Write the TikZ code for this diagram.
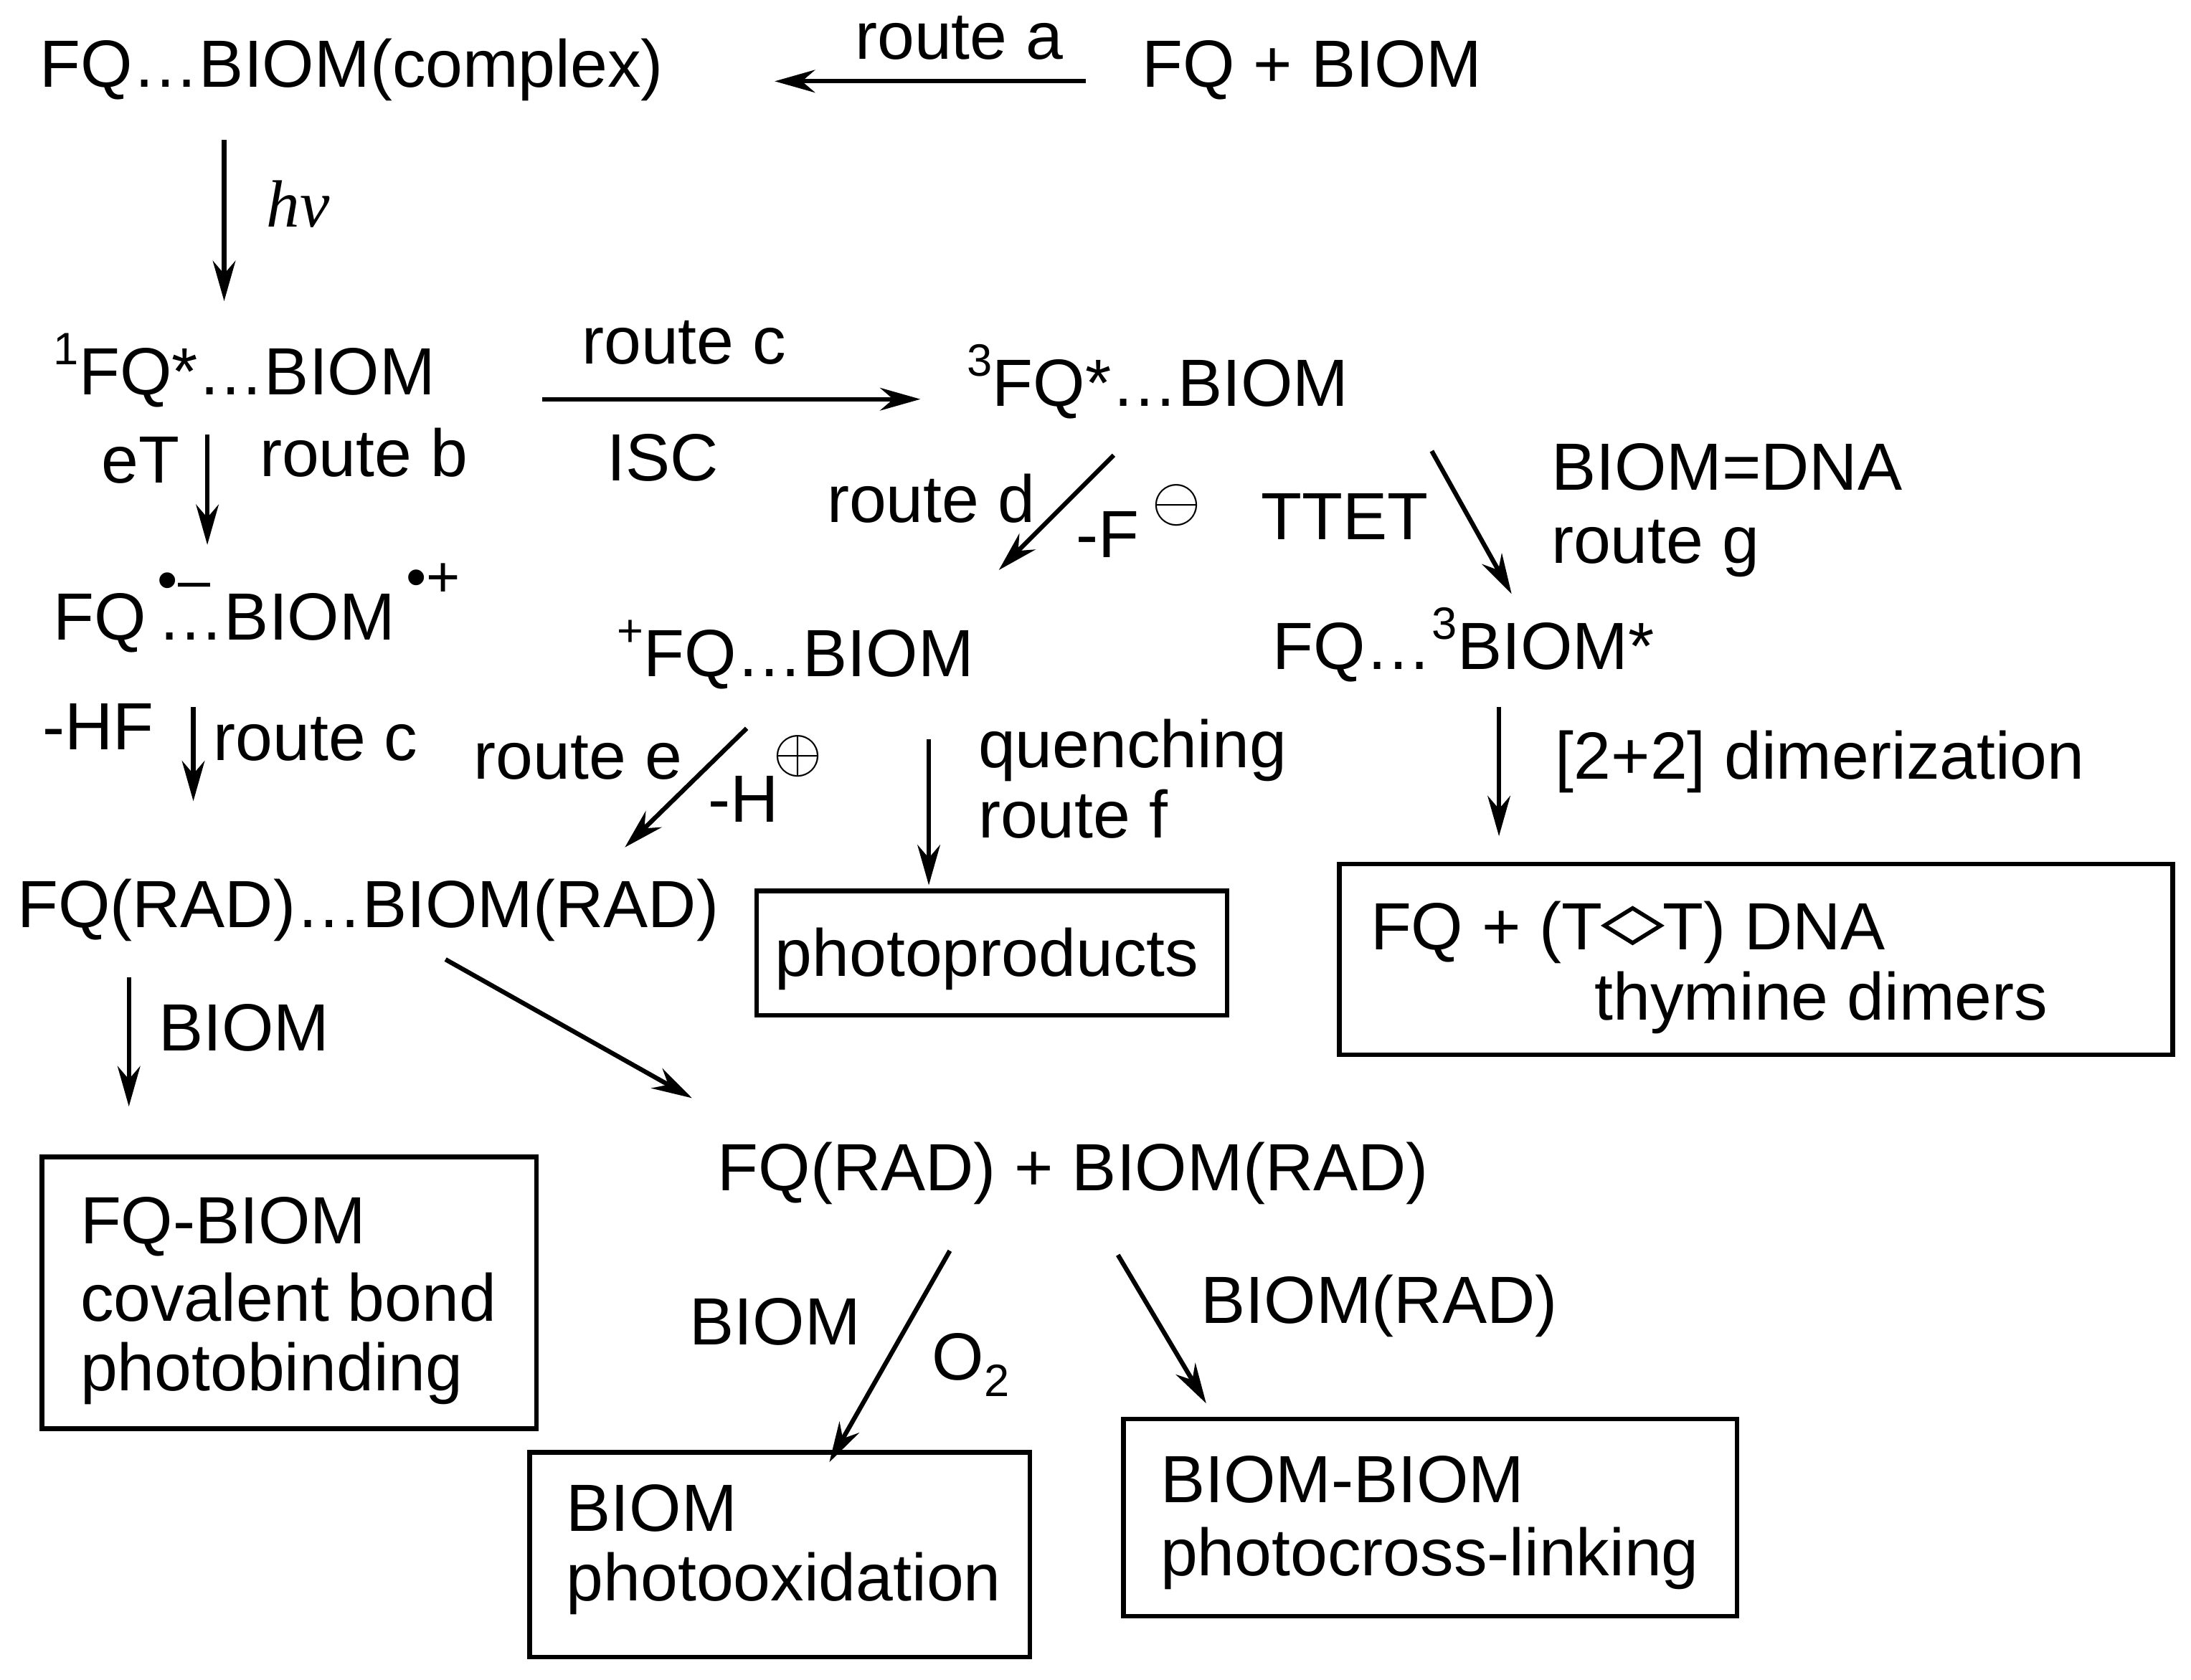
\documentclass[tikz,border=0pt]{standalone}
\usepackage{fontspec}
\setmainfont{Liberation Sans}
\newfontfamily\serifit{Liberation Serif}
\usetikzlibrary{arrows.meta}
\begin{document}
\begin{tikzpicture}[x=0.01953cm,y=-0.01953cm,
  t/.style={anchor=base west,inner sep=0pt,font=\fontsize{26.5}{30}\selectfont},
  ar/.style={-{Stealth[length=16pt,width=9pt]},line width=1.8pt},
  bx/.style={line width=1.8pt}]
\useasboundingbox (0,0) rectangle (1564,1199);
\newcommand\sm[1]{{\fontsize{18}{20}\selectfont #1}}
\newcommand\smb[1]{{\fontsize{23}{24}\selectfont #1}}
% row 1
\node[t] (c1) at (28,62) {FQ…BIOM(complex)};
\node[t] (ra) at (610,42) {route a};
\node[t] (fb) at (815,62) {FQ + BIOM};
\coordinate (a1s) at (775,58); \coordinate (a1e) at (553,58);
\draw[ar] (a1s) -- (a1e);
\coordinate (h1) at (160,100); \coordinate (h2) at (160,215);
\draw[ar] (h1) -- (h2);
\node[t,font=\fontsize{26.5}{30}\serifit\itshape] (hv) at (190,162) {hv};
% row 2
\node[t] (s1) at (38,282) {\raisebox{0.45em}{\sm{1}}FQ*…BIOM};
\node[t] (rc) at (415,260) {route c};
\coordinate (c2s) at (387,285); \coordinate (c2e) at (657,285);
\draw[ar] (c2s) -- (c2e);
\node[t] (isc) at (433,343) {ISC};
\node[t] (t1) at (690,290) {\raisebox{0.45em}{\sm{3}}FQ*…BIOM};
\node[t] (et) at (72,345) {eT};
\coordinate (b1) at (148,310); \coordinate (b2) at (148,389);
\draw[ar] (b1) -- (b2);
\node[t] (rb) at (185,340) {route b};
\node[t] (rad) at (38,457) {FQ\,\rlap{\raisebox{0.6em}{\smb{\textbullet–}}}…BIOM\,\raisebox{0.65em}{\smb{\textbullet+}}};
\node[t] (rd) at (590,373) {route d};
\coordinate (d1) at (795,325); \coordinate (d2) at (713,407);
\draw[ar] (d1) -- (d2);
\node[t] (mf) at (768,398) {-F};
\node[t] (om) at (822,372) {$\ominus$};
\node[t] (ttet) at (900,385) {TTET};
\coordinate (g1) at (1022,322); \coordinate (g2) at (1079,424);
\draw[ar] (g1) -- (g2);
\node[t] (dna) at (1107,350) {BIOM=DNA};
\node[t] (rg) at (1107,402) {route g};
\node[t] (pfq) at (440,483) {\raisebox{0.45em}{\sm{+}}FQ…BIOM};
\node[t] (fq3) at (908,478) {FQ…\raisebox{0.45em}{\sm{3}}BIOM*};
% row 3
\node[t] (hf) at (30,535) {-HF};
\coordinate (e1) at (138,505); \coordinate (e2) at (138,572);
\draw[ar] (e1) -- (e2);
\node[t] (rc2) at (152,543) {route c};
\node[t] (re) at (338,556) {route e};
\coordinate (f1) at (533,520); \coordinate (f2) at (446,605);
\draw[ar] (f1) -- (f2);
\node[t] (mh) at (505,587) {-H};
\node[t] (op) at (552,551) {$\oplus$};
\coordinate (q1) at (663,528); \coordinate (q2) at (663,632);
\draw[ar] (q1) -- (q2);
\node[t] (qu) at (698,548) {quenching};
\node[t] (rf) at (698,598) {route f};
\coordinate (z1) at (1070,505); \coordinate (z2) at (1070,597);
\draw[ar] (z1) -- (z2);
\node[t] (dim) at (1110,556) {[2+2] dimerization};
\node[t] (rr) at (12,662) {FQ(RAD)…BIOM(RAD)};
\draw[bx] (540,636) rectangle (876,725);
\node[t] (pp) at (553,697) {photoproducts};
\draw[bx] (956,617) rectangle (1551,753);
\node[t] (td) at (978,678) {FQ + (T\tikz[baseline=0pt]\draw[line width=1.6pt,line join=miter] (0,0.36em)--(0.42em,0.62em)--(0.84em,0.36em)--(0.42em,0.1em)--cycle;T) DNA};
\node[t] (td2) at (1138,728) {thymine dimers};
% row 4
\coordinate (k1) at (92,698); \coordinate (k2) at (92,790);
\draw[ar] (k1) -- (k2);
\node[t] (bm) at (113,750) {BIOM};
\coordinate (m1) at (318,685); \coordinate (m2) at (494,784);
\draw[ar] (m1) -- (m2);
\node[t] (sep) at (512,850) {FQ(RAD) + BIOM(RAD)};
\draw[bx] (30,826) rectangle (383,1020);
\node[t] (cb1) at (57,888) {FQ-BIOM};
\node[t] (cb2) at (57,943) {covalent bond};
\node[t] (cb3) at (57,993) {photobinding};
\coordinate (o1) at (678,893); \coordinate (o2) at (592,1044);
\draw[ar] (o1) -- (o2);
\node[t] (bm2) at (492,960) {BIOM};
\node[t] (o2t) at (665,985) {O\raisebox{-0.25em}{\sm{2}}};
\coordinate (x1) at (798,896); \coordinate (x2) at (861,1002);
\draw[ar] (x1) -- (x2);
\node[t] (br) at (857,945) {BIOM(RAD)};
\draw[bx] (378,1037) rectangle (735,1183);
\node[t] (px1) at (404,1093) {BIOM};
\node[t] (px2) at (404,1143) {photooxidation};
\draw[bx] (802,1013) rectangle (1240,1154);
\node[t] (cl1) at (828,1073) {BIOM-BIOM};
\node[t] (cl2) at (828,1125) {photocross-linking};
\end{tikzpicture}
\end{document}
